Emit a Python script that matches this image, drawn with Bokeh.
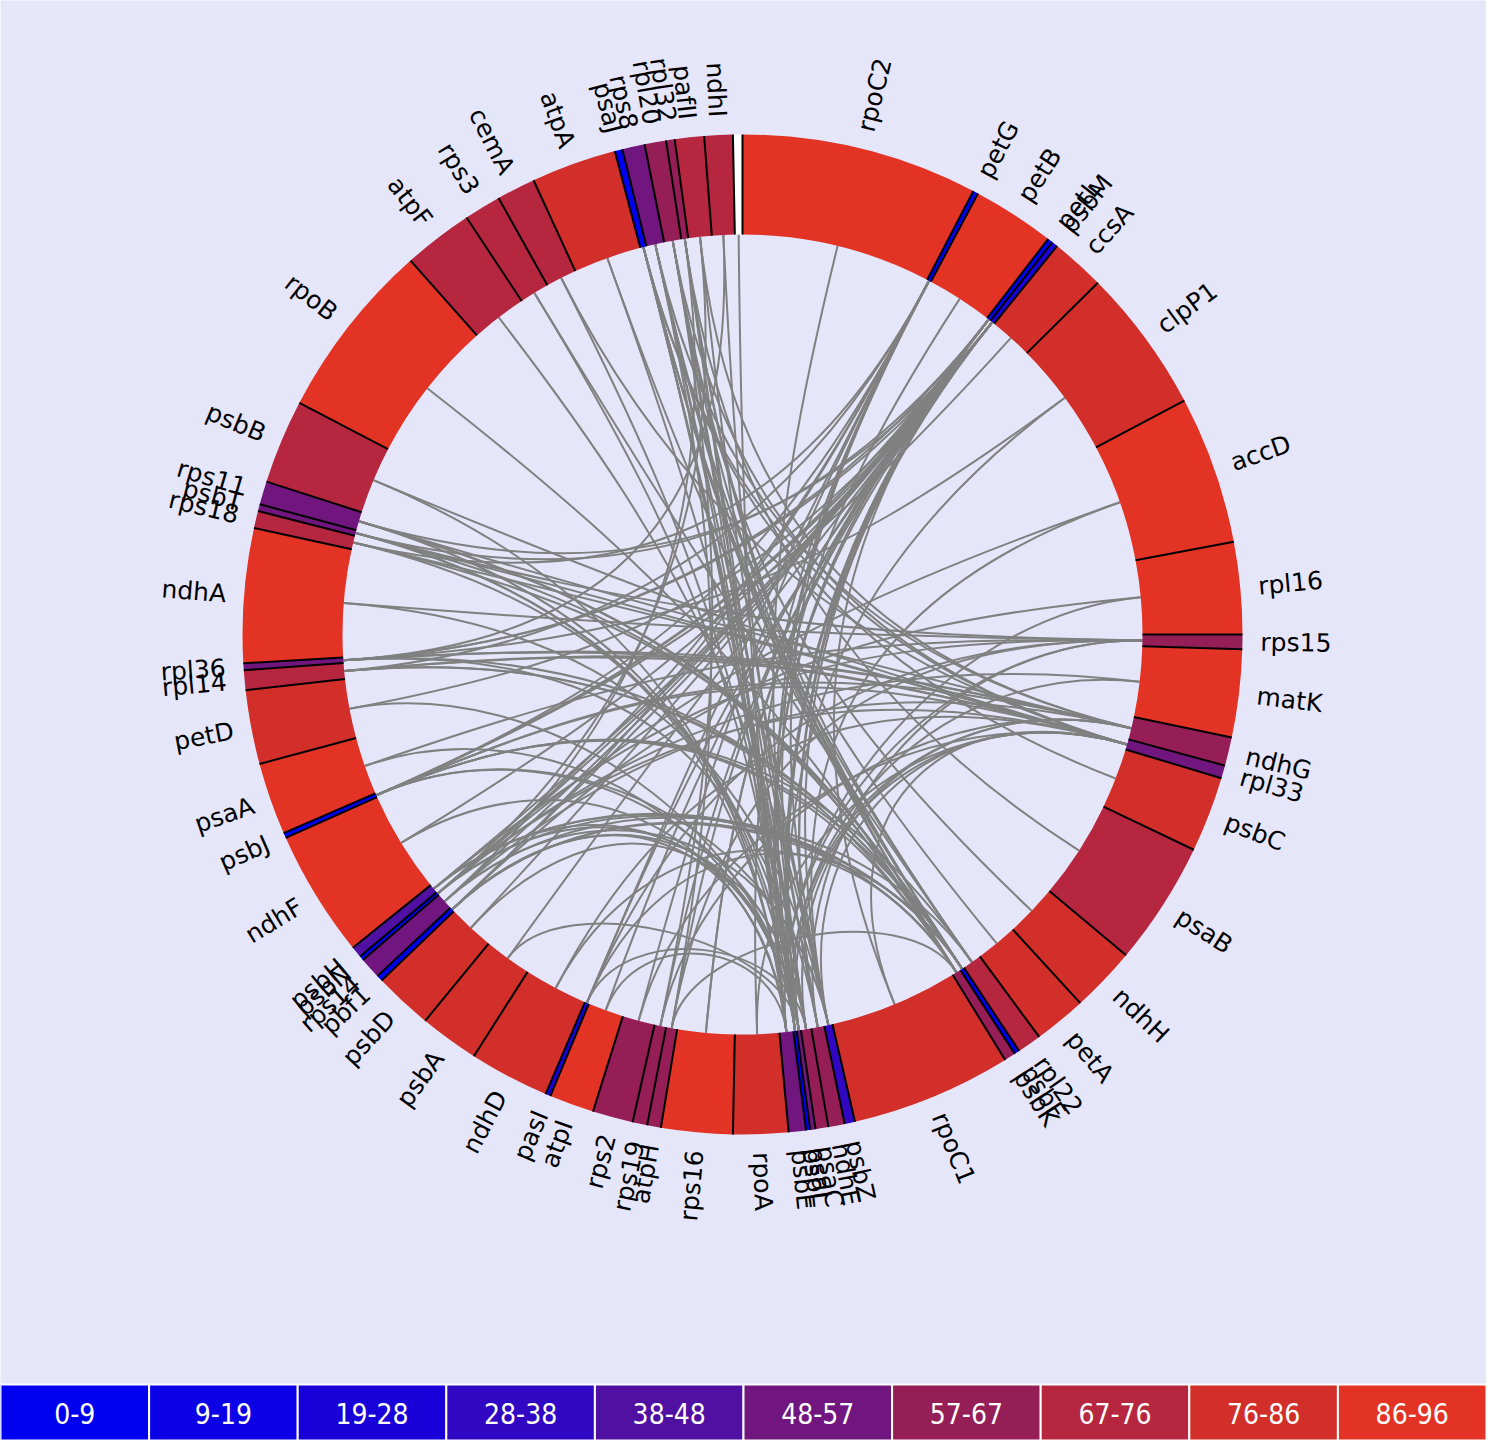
import numpy as np
from bokeh.plotting import figure
from bokeh.models import ColumnDataSource, Range1d
from bokeh.core.properties import value
from bokeh.embed import file_html
from bokeh.resources import INLINE

# genes clockwise from the top, their arc size (degrees) and score (0-96)
genes = ["rpoC2", "petG", "petB", "petL", "psbM", "ccsA", "clpP1", "accD", "rpl16", "rps15",
         "matK", "ndhG", "rpl33", "psbC", "psaB", "ndhH", "petA", "rpl22", "psbF", "psbK",
         "rpoC1", "psbZ", "ndhE", "psaC", "psaI", "psbL", "psbE", "rpoA", "rps16", "atpH",
         "rps19", "rps2", "atpI", "pasI", "ndhD", "psbA", "psbD", "pbf1", "rps14", "psbN",
         "psbH", "ndhF", "psbJ", "psaA", "petD", "rpl14", "rpl36", "ndhA", "rps18", "psbT",
         "rps11", "psbB", "rpoB", "atpF", "rps3", "cemA", "atpA", "psaJ", "rps8", "rpl20",
         "rpl32", "pafII", "ndhI", ""]
extent = [27.5, 0.6, 9.6, 0.6, 0.7, 6.3, 16.8, 17.2, 10.7, 1.7,
          10.2, 3.3, 1.5, 8.8, 14.4, 7.6, 6.1, 2.8, 0.6, 1.3,
          18.7, 1.2, 1.9, 1.5, 0.6, 0.5, 2.0, 6.4, 8.3, 1.6,
          1.7, 4.7, 5.2, 0.6, 9.3, 6.9, 6.8, 0.7, 2.5, 0.5,
          1.3, 14.8, 0.6, 8.4, 8.6, 2.3, 0.8, 15.6, 2.0, 0.8,
          2.7, 9.8, 20.8, 8.1, 4.3, 4.5, 9.9, 0.9, 2.6, 2.5,
          1.0, 3.4, 3.3, 1.1]
score = [90, 5, 92, 4, 22, 80, 79, 89, 91, 62,
         88, 60, 52, 81, 70, 82, 83, 72, 3, 63,
         84, 33, 64, 61, 50, 6, 54, 80, 89, 59,
         65, 62, 90, 25, 82, 79, 81, 2, 55, 7,
         44, 93, 1, 90, 83, 73, 51, 91, 71, 53,
         50, 70, 92, 69, 74, 70, 80, 8, 50, 60,
         64, 72, 71, None]

bin_labels = ["0-9", "9-19", "19-28", "28-38", "38-48", "48-57", "57-67", "67-76", "76-86", "86-96"]
bin_colors = ["#0000F0", "#0C00E6", "#1A00D8", "#3008C4", "#5010A2", "#70167E", "#961E57",
              "#B7263F", "#D22E2A", "#E23325"]

links = [
    ("psaJ", "psbK"), ("psaJ", "psbF"), ("psaJ", "psaC"), ("psaJ", "psbL"), ("psaJ", "rpl33"), ("psaJ", "psbE"),
    ("rps8", "psbZ"), ("rps8", "psbF"), ("rps8", "ndhG"), ("rps8", "psaI"), ("rps8", "atpH"),
    ("rpl20", "psbK"), ("rpl20", "ndhE"), ("rpl20", "rpl33"), ("rpl20", "psbL"), ("rpl20", "rps19"),
    ("rpl32", "rpl22"), ("rpl32", "psaC"), ("rpl32", "psbE"), ("rpl32", "psbF"), ("rpl32", "rps14"),
    ("pafII", "psbZ"), ("pafII", "ndhG"), ("pafII", "psbN"),
    ("ndhI", "ndhE"), ("ndhI", "rpl36"), ("", "psbE"),
    ("atpA", "psaC"), ("atpA", "psbF"), ("cemA", "psaI"), ("cemA", "rpl33"),
    ("rps3", "psbL"), ("rps3", "rpl22"), ("atpF", "psbZ"), ("rpoB", "psbK"),
    ("psbB", "rpl33"), ("psbB", "psbE"),
    ("rps11", "psbM"), ("rps11", "psbF"), ("rps11", "ndhG"), ("rps11", "psaI"),
    ("psbT", "petL"), ("psbT", "psbK"), ("psbT", "rps15"), ("psbT", "psbL"), ("psbT", "psbE"),
    ("rps18", "petG"), ("rps18", "rpl33"), ("rps18", "psaC"),
    ("ndhA", "rps15"), ("ndhA", "psbZ"),
    ("rpl36", "petL"), ("rpl36", "psbM"), ("rpl36", "rpl33"), ("rpl36", "psbF"), ("rpl36", "ndhE"),
    ("rpl14", "petG"), ("rpl14", "ndhG"), ("rpl14", "psbK"),
    ("petD", "psbM"), ("petD", "psaI"), ("psaA", "rps15"), ("psaA", "psbL"),
    ("psbJ", "petG"), ("psbJ", "petL"), ("psbJ", "psbM"), ("psbJ", "rpl33"), ("psbJ", "psbF"),
    ("psbJ", "psbZ"), ("psbJ", "psaC"),
    ("ndhF", "psbM"), ("ndhF", "psbE"),
    ("psbH", "petL"), ("psbH", "rps15"), ("psbH", "psbK"), ("psbH", "psbL"),
    ("psbN", "petG"), ("psbN", "psbM"), ("psbN", "rpl33"), ("psbN", "psbF"), ("psbN", "psaI"),
    ("rps14", "petL"), ("rps14", "ndhG"), ("rps14", "psbZ"), ("rps14", "rpl22"),
    ("pbf1", "psbM"), ("pbf1", "petG"), ("pbf1", "psbF"), ("pbf1", "psbE"), ("pbf1", "psaC"),
    ("psbD", "petL"), ("psbD", "psbL"), ("psbA", "psbM"), ("psbA", "psaI"),
    ("ndhD", "rpl33"), ("ndhD", "psbK"),
    ("pasI", "petG"), ("pasI", "psbM"), ("pasI", "rps15"), ("pasI", "psbF"), ("pasI", "psaC"),
    ("atpI", "petL"), ("atpI", "psbE"), ("rps2", "petG"), ("rps2", "rpl33"),
    ("rps19", "psbM"), ("rps19", "ndhG"), ("atpH", "petL"), ("atpH", "rps15"), ("atpH", "psbK"),
    ("rps16", "psbM"), ("rps16", "petL"), ("rpoA", "petG"), ("rpoA", "rpl33"),
    ("psbE", "petL"), ("psbE", "psbM"), ("psbE", "rps15"),
    ("psbL", "petG"), ("psbL", "psbM"), ("psbL", "ndhG"),
    ("psaI", "petL"), ("psaI", "psbM"), ("psaI", "rpl33"),
    ("psaC", "petG"), ("psaC", "ndhG"),
    ("ndhE", "petL"), ("ndhE", "psbM"), ("ndhE", "rps15"),
    ("psbZ", "petG"), ("psbZ", "psbM"), ("psbZ", "rpl33"),
    ("rpoC1", "rpl33"), ("rpoC1", "petL"),
    ("rpl33", "psbT"), ("rpl33", "rpl14"), ("ndhG", "psbJ"), ("ndhG", "rpl36"),
    ("matK", "psbN"), ("psbF", "rps18"), ("psbF", "psbH"), ("psbF", "rpl14"),
    ("psbK", "pbf1"), ("psbK", "psbJ"), ("psbK", "rps11"), ("rpl22", "psbJ"), ("rpl22", "psaJ"),
    ("petA", "rps8"), ("ndhH", "rpl20"), ("psaB", "rpl32"), ("psbC", "psaJ"),
    ("matK", "psbL"), ("rpl16", "pbf1"), ("rpl16", "psbE"),
    ("accD", "psbN"), ("accD", "psbZ"), ("clpP1", "psbL"), ("clpP1", "rpl36"),
    ("ccsA", "psbJ"), ("petB", "psbE"), ("rpoC2", "psaC"),
]

BG = "#E6E6FA"
CX, CY = 750, -642
R_IN, R_OUT, R_LAB = 400, 500, 518


def bin_color(s):
    if s is None:
        return "white"
    return bin_colors[min(int(s / 9.6), 9)]


ext = np.array(extent)
start = np.concatenate([[0.0], np.cumsum(ext)[:-1]])
end = start + ext
mid = (start + end) / 2

p = figure(width=1486, height=1440, x_range=Range1d(8, 1494), y_range=Range1d(-1448, -8),
           output_backend="svg", toolbar_location=None, x_axis_type=None, y_axis_type=None,
           background_fill_color=BG, border_fill_color=BG, min_border=0, outline_line_color=None)
p.grid.visible = False

# chords: cubic curves whose control points are pulled toward the centre,
# more strongly the further apart the two ends are
pos = {g: (CX + R_IN * np.sin(np.radians(m)), CY + R_IN * np.cos(np.radians(m))) for g, m in zip(genes, mid)}
dist_edges = [0.765, 1.414, 1.848]
params = [1.3, 2.0, 3.2, 5.0]
ch = dict(x0=[], y0=[], x1=[], y1=[], cx0=[], cy0=[], cx1=[], cy1=[])
for a, b in links:
    ax, ay = pos[a]
    bx, by = pos[b]
    d = np.hypot(ax - bx, ay - by) / R_IN
    k = sum(d > e for e in dist_edges)
    f = params[k]
    ch["x0"].append(ax); ch["y0"].append(ay)
    ch["x1"].append(bx); ch["y1"].append(by)
    ch["cx0"].append(CX + (ax - CX) / f); ch["cy0"].append(CY + (ay - CY) / f)
    ch["cx1"].append(CX + (bx - CX) / f); ch["cy1"].append(CY + (by - CY) / f)
p.bezier(x0="x0", y0="y0", x1="x1", y1="y1", cx0="cx0", cy0="cy0", cx1="cx1", cy1="cy1",
         source=ColumnDataSource(ch), line_color="#808080", line_width=2)

# ring
p.annular_wedge(x=CX, y=CY, inner_radius=R_IN, outer_radius=R_OUT,
                start_angle=np.radians(90 - end), end_angle=np.radians(90 - start),
                fill_color=[bin_color(s) for s in score], line_color=None)
b_ang = np.radians(start)
p.segment(x0=CX + R_IN * np.sin(b_ang), y0=CY + R_IN * np.cos(b_ang),
          x1=CX + R_OUT * np.sin(b_ang), y1=CY + R_OUT * np.cos(b_ang),
          line_color="black", line_width=2)

# labels
lab = dict(x=[], y=[], t=[], a=[], al=[])
for g, m in zip(genes, mid):
    if not g:
        continue
    r = np.radians(m)
    lab["x"].append(CX + R_LAB * np.sin(r))
    lab["y"].append(CY + R_LAB * np.cos(r))
    lab["t"].append(g)
    if m < 180:
        lab["a"].append(np.radians(90 - m)); lab["al"].append("left")
    else:
        lab["a"].append(np.radians(270 - m)); lab["al"].append("right")
p.text(x="x", y="y", text="t", angle="a", text_align="al", source=ColumnDataSource(lab),
       text_baseline="middle", text_font=value("DejaVu Sans"), text_font_size="25px", text_color="black")

# legend bar
w = (1494 - 8) / len(bin_labels)
lefts = [8 + i * w for i in range(len(bin_labels))]
p.quad(left=lefts, right=[l + w for l in lefts], top=-1392, bottom=-1448,
       fill_color=bin_colors, line_color="white", line_width=2)
p.text(x=[l + w / 2 for l in lefts], y=-1421, text=bin_labels, text_align="center",
       text_baseline="middle", text_color="white", text_font=value("DejaVu Sans Condensed"),
       text_font_size="28px")

open("out.html", "w").write(file_html(p, INLINE))
